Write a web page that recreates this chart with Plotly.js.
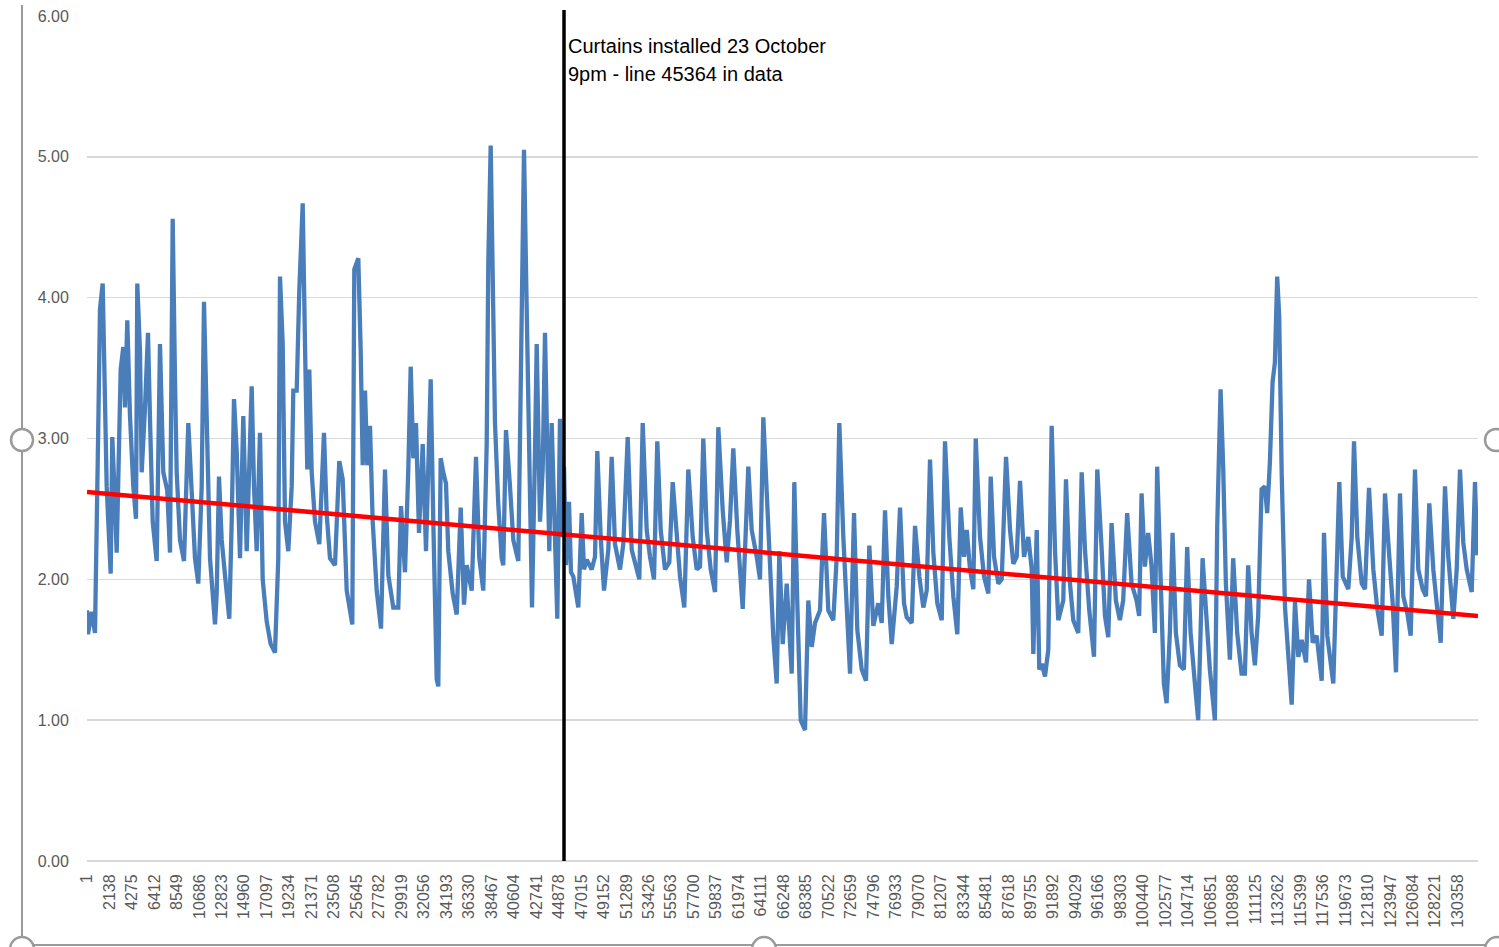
<!DOCTYPE html>
<html>
<head>
<meta charset="utf-8">
<script src="https://cdn.plot.ly/plotly-3.0.1.min.js"></script>
<style>html,body{margin:0;padding:0;background:#fff;}#chart{width:1499px;height:947px;}</style>
</head>
<body>
<div id="chart"></div>
<script>
// Data rows (x) and readings (y), in segments
const rowsA = [1,95,447,761,1075,1236,1493,1712,1873,2254,2406,2596,2824,3205,3452,3614,3833,4089,4403,4660,4784,5040,5202,5516,5801,5991,6248,6628,6942,7256,7636,7893,8150,8369,8530,8844,9225,9634,9890,10271,10585,10908,11127,11384,11697,12173,12335,12553,12810,13124,13533,13761,13980,14237,14550,14864,15188,15663,15882,16139,16452,16709,17090,17470,17879,18193,18355,18612,18831,19144,19468,19620,19943,20190,20514,20732,20951,21141,21370,21684,22093];
const valsA = [1.78,1.61,1.77,1.62,3.09,3.92,4.10,3.16,2.66,2.04,3.01,2.66,2.19,3.49,3.65,3.22,3.84,3.16,2.66,2.43,4.10,3.62,2.76,3.22,3.75,3.14,2.41,2.13,3.67,2.76,2.63,2.19,4.56,3.42,2.76,2.28,2.13,3.11,2.66,2.15,1.97,2.66,3.97,3.16,2.15,1.68,1.90,2.73,2.28,2.03,1.72,2.41,3.28,2.91,2.15,3.16,2.20,3.37,2.66,2.20,3.04,2.00,1.70,1.54,1.48,2.15,4.15,3.67,2.41,2.20,2.66,3.34,3.34,4.05,4.67,3.67,2.78,3.49,2.76,2.41,2.25];

const rowsB = [22539,22796,23110,23585,23994,24318,24698,25231,25421,25801,26030,26220,26439,26657,26914,27171,27551,27960,28340,28654,29130,29605,29862,30242,30556,30785,31032,31289,31574,31926,32240,32686,32934,33257,33409,33637,33884,34141,34360,34778,35159,35539,35853,36110,36585,36994,37308,37688,38012,38164,38392,38582,38801,39115,39438,39590,39847,40227,40541,41017,41178,41340,41559,41816,42063,42320,42605,42767,43081,43338,43556,43718,43965,44193,44507,44726,44982,45173,45363,45553,45839,46029];
const valsB = [3.04,2.46,2.15,2.10,2.84,2.71,1.92,1.68,4.20,4.28,3.62,2.81,3.34,2.81,3.09,2.41,1.92,1.65,2.78,2.03,1.80,1.80,2.52,2.05,2.78,3.51,2.86,3.11,2.33,2.96,2.20,3.42,2.41,1.29,1.24,2.86,2.76,2.68,2.20,1.90,1.75,2.51,1.82,2.10,1.92,2.87,2.15,1.92,2.96,4.25,5.08,3.90,3.11,2.53,2.15,2.10,3.06,2.66,2.28,2.13,2.99,4.38,5.05,3.92,2.66,1.80,2.91,3.67,2.41,2.78,3.75,2.95,2.20,3.11,2.41,1.72,3.14,2.30,2.80,2.10,2.55,2.05];

const rowsC = [46247,46723,47046,47265,47522,47997,48311,48530,48853,49167,49576,49900,50213,50689,51003,51421,51801,52115,52524,52848,53228,53542,53922,54236,54560,54969,55378,55701,56082,56395,56804,57185,57603,57984,58298,58611,58935,59315,59724,60038,60457,60837,61150,61464,61845,62358,62891,63214,63690,64004,64318,64793,65269,65592,65839,66163,66543,67019,67266,67551,67874,68283,68597];
const valsC = [2.02,1.80,2.47,2.07,2.14,2.07,2.16,2.91,2.30,1.92,2.21,2.87,2.25,2.07,2.25,3.01,2.21,2.11,2.00,3.11,2.35,2.16,2.00,2.98,2.35,2.07,2.12,2.69,2.30,2.02,1.80,2.78,2.30,2.07,2.09,3.00,2.35,2.07,1.91,3.08,2.49,2.12,2.42,2.93,2.35,1.79,2.80,2.35,2.16,2.00,3.15,2.42,1.59,1.26,2.20,1.54,1.97,1.33,2.69,1.83,1.00,0.93,1.85];

const rowsD = [68920,69235,69710,70091,70499,70975,71298,71546,71926,72250,72564,72944,73258,73676,74085,74399,74779,75255,75578,75893,76206,76530,77006,77320,77700,77957,78432,78746,79155,79535,79858,80172,80486,80866,81285,81598,82007,82388,82768,83092,83405,83662,83976,84290,84518,84927,85307,85716,85945,86259,86667,86991,87400,87780,88094,88417,88731,89111,89520,89844,89996,90320,90563,90820,91104,91419];
const valsD = [1.52,1.69,1.78,2.47,1.78,1.71,2.16,3.11,2.30,1.83,1.33,2.47,1.64,1.36,1.28,2.24,1.67,1.83,1.69,2.49,1.88,1.54,1.95,2.51,1.83,1.73,1.69,2.38,2.02,1.80,1.92,2.85,2.19,1.83,1.71,2.98,2.30,1.88,1.61,2.51,2.16,2.35,2.07,1.93,3.00,2.30,2.02,1.90,2.73,2.16,1.97,2.00,2.87,2.35,2.11,2.16,2.70,2.16,2.30,2.07,1.47,2.35,1.36,1.40,1.31,1.50];

const rowsE = [91741,92055,92369,92844,93101,93481,93795,94270,94594,94908,95317,95764,96078,96496,96810,97124,97438,97847,98227,98541,98921,99339,99815,100062,100290,100604,100918,101241,101555,101774,102097,102411,102668,102982,103238,103552,103933,104313,104627,104951,105360,105673,106092,106406,106786,107262,107481,107804,108051,108308,108689,109003,109383,109801,110115,110429,110752,111066,111380,111704,112018,112236,112493,112749,112968,113187,113377,113616,113930,114339,114567];
const valsE = [3.09,2.21,1.71,1.85,2.71,1.97,1.71,1.62,2.76,2.21,1.78,1.45,2.78,2.21,1.74,1.59,2.40,1.85,1.71,1.85,2.47,1.97,1.85,1.74,2.61,2.09,2.33,2.09,1.62,2.80,1.97,1.26,1.12,1.62,2.33,1.62,1.39,1.36,2.23,1.62,1.26,1.00,2.15,1.74,1.36,1.00,2.37,3.35,2.80,1.97,1.43,2.15,1.62,1.33,1.33,2.10,1.62,1.39,1.74,2.64,2.66,2.47,2.83,3.40,3.54,4.15,3.87,2.75,1.80,1.36,1.11];

const rowsF = [114881,115195,115518,115927,116212,116564,116944,117420,117639,117953,118523,118847,119094,119418,119950,120274,120492,120806,121225,121538,121919,122328,122708,123126,123440,123754,124172,124486,124866,125180,125561,125884,126293,126607,127025,127339,127653,128033,128414,128737,129146,129460,129936,130259,130573,130887,131210,131686,131999,132218];
const valsF = [1.84,1.45,1.57,1.41,2.00,1.55,1.60,1.28,2.33,1.60,1.26,2.07,2.69,2.02,1.93,2.30,2.98,2.30,1.97,1.93,2.65,2.07,1.79,1.60,2.61,2.26,1.83,1.34,2.61,1.88,1.76,1.60,2.78,2.07,1.93,1.88,2.54,2.07,1.79,1.55,2.66,2.16,1.72,2.07,2.78,2.26,2.07,1.91,2.69,2.17];

// Linear trend line end points
const trendRows = [1, 132284];
const trendVals = [2.62, 1.74];

// Event marker
const curtainRow = 45364;
const noteLines = ["Curtains installed 23 October", "9pm - line 45364 in data"];

// Category tick labels
const tickRows = [1,2138,4275,6412,8549,10686,12823,14960,17097,19234,21371,23508,25645,27782,29919,32056,34193,36330,38467,40604,42741,44878,47015,49152,51289,53426,55563,57700,59837,61974,64111,66248,68385,70522,72659,74796,76933,79070,81207,83344,85481,87618,89755,91892,94029,96166,98303,100440,102577,104714,106851,108988,111125,113262,115399,117536,119673,121810,123947,126084,128221,130358];
const yTicks = [0,1,2,3,4,5,6];

const rows = [].concat(rowsA, rowsB, rowsC, rowsD, rowsE, rowsF);
const vals = [].concat(valsA, valsB, valsC, valsD, valsE, valsF);

const traces = [
  {x: rows, y: vals, type: 'scatter', mode: 'lines', line: {color: '#4a7ebb', width: 4.3}, hoverinfo: 'skip'},
  {x: trendRows, y: trendVals, type: 'scatter', mode: 'lines', line: {color: '#ff0000', width: 4.5}, hoverinfo: 'skip'}
];

const frame = '#9a9a9a';
function circ(cx, cy, r) {
  // frame handles placed in paper units of the 1499x947 figure
  const L = 87, W = 1391, B = 861, H = 845;
  return {type: 'circle', xref: 'paper', yref: 'paper',
    x0: (cx - r - L) / W, x1: (cx + r - L) / W,
    y0: (B - (cy + r)) / H, y1: (B - (cy - r)) / H,
    line: {color: frame, width: 2.5}, fillcolor: '#ffffff', layer: 'above'};
}

const layout = {
  width: 1499, height: 947,
  margin: {l: 87, r: 21, t: 16, b: 86, pad: 0},
  paper_bgcolor: '#ffffff', plot_bgcolor: '#ffffff',
  showlegend: false,
  font: {family: 'Liberation Sans, Arial, sans-serif', color: '#595959'},
  xaxis: {
    type: 'linear', range: [1, 132284], autorange: false,
    tickvals: tickRows, ticktext: tickRows.map(String),
    tickangle: -90, tickfont: {size: 16, color: '#595959'},
    showgrid: false, zeroline: false, showline: false,
    ticks: 'outside', ticklen: 6, tickcolor: 'rgba(0,0,0,0)'
  },
  yaxis: {
    range: [0, 6], autorange: false,
    tickvals: yTicks, ticktext: yTicks.map(v => v.toFixed(2)),
    tickfont: {size: 16, color: '#595959'},
    showgrid: true, gridcolor: '#d9d9d9', gridwidth: 1.5,
    zeroline: true, zerolinecolor: '#d9d9d9', zerolinewidth: 1.5,
    showline: false, ticks: 'outside', ticklen: 14, tickcolor: 'rgba(0,0,0,0)'
  },
  shapes: [
    {type: 'line', xref: 'x', yref: 'paper', x0: curtainRow, x1: curtainRow, y0: 0, y1: 1.007,
     line: {color: '#000000', width: 3.5}, layer: 'above'},
    {type: 'line', xref: 'paper', yref: 'paper', x0: (22-87)/1391, x1: (22-87)/1391, y0: (861-5)/845, y1: (861-945)/845,
     line: {color: frame, width: 2}},
    {type: 'line', xref: 'paper', yref: 'paper', x0: (22-87)/1391, x1: (1490-87)/1391, y0: (861-945)/845, y1: (861-945)/845,
     line: {color: frame, width: 2}},
    circ(22, 440, 11), circ(1496, 440, 11), circ(764, 949, 12), circ(22, 949, 12), circ(1497, 949, 12)
  ],
  annotations: [
    {xref: 'x', yref: 'paper', x: curtainRow, y: (861-46)/845, xanchor: 'left', yanchor: 'middle', xshift: 2,
     text: noteLines[0], showarrow: false, font: {size: 20, color: '#000000', family: 'Liberation Sans, Arial, sans-serif'}},
    {xref: 'x', yref: 'paper', x: curtainRow, y: (861-74)/845, xanchor: 'left', yanchor: 'middle', xshift: 2,
     text: noteLines[1], showarrow: false, font: {size: 20, color: '#000000', family: 'Liberation Sans, Arial, sans-serif'}}
  ]
};

Plotly.newPlot('chart', traces, layout, {displayModeBar: false, staticPlot: true});
</script>
</body>
</html>
